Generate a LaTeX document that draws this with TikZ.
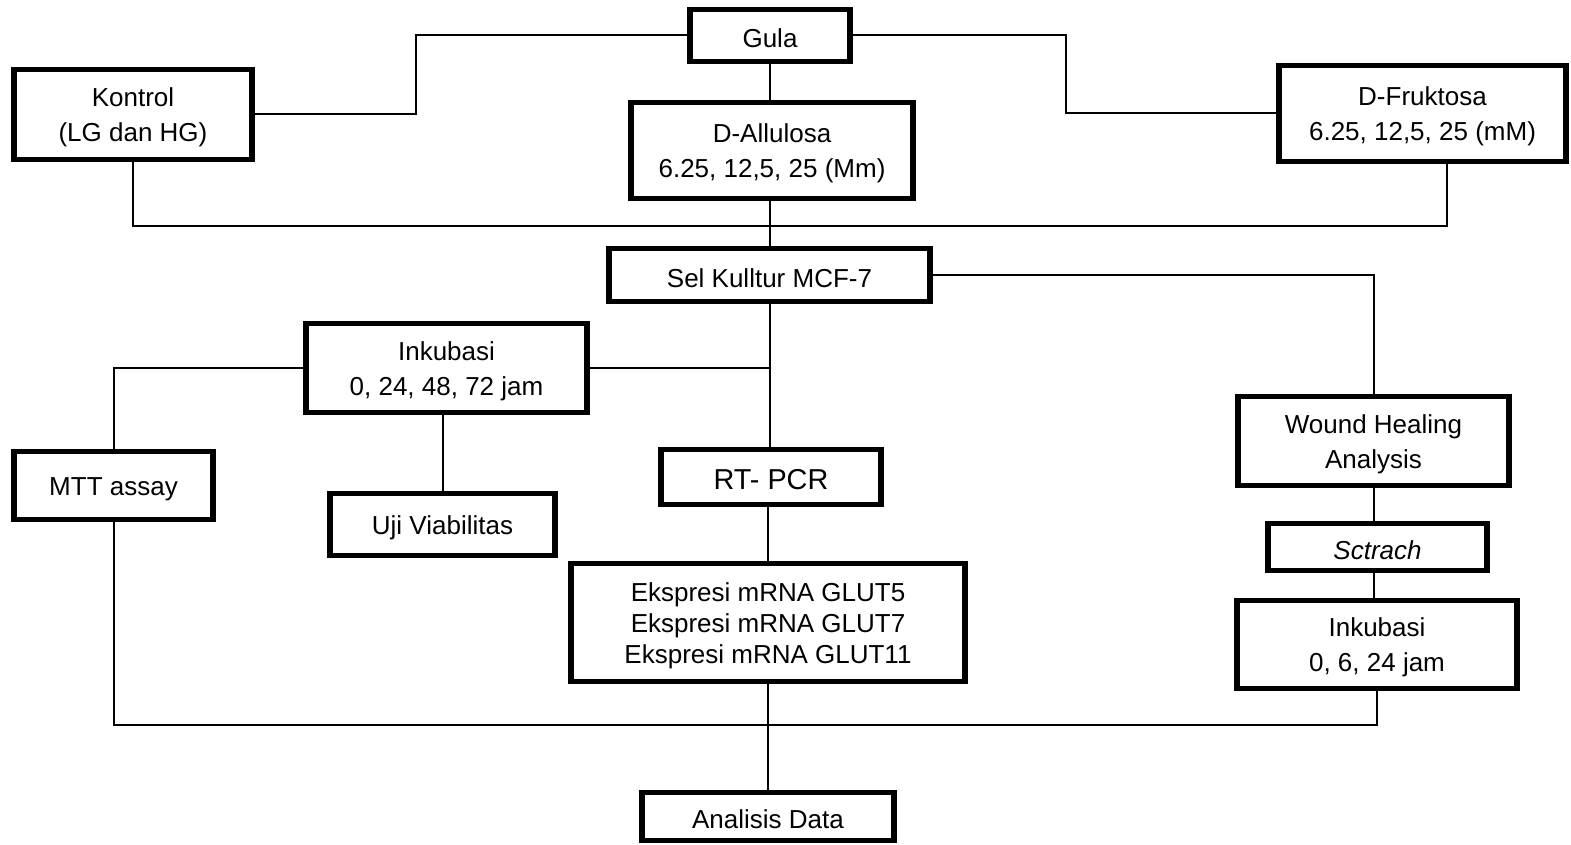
\documentclass[tikz,border=0pt]{standalone}
\usepackage{fontspec}
\setmainfont{Liberation Sans}
\usetikzlibrary{calc}
\newcommand{\mystrut}{\rule{0pt}{12.3pt}}
\begin{document}
\begin{tikzpicture}[x=0.5pt,y=-0.5pt,
  box/.style={draw,rectangle,line width=2.6pt,fill=white,inner sep=0pt,align=center,
    font=\fontsize{13}{17.5}\selectfont},
  conn/.style={line width=1pt}]
\useasboundingbox (0,0) rectangle (1571,845);
% nodes
\node[box,minimum width=80pt,minimum height=26.25pt] (gula) at (770,35.5) {\mystrut Gula};
\node[box,minimum width=119pt,minimum height=45.25pt] (kontrol) at (133,114.5) {\mystrut Kontrol\\(LG dan HG)};
\node[box,minimum width=141pt,minimum height=48.25pt] (allu) at (772,150.5) {\mystrut D-Allulosa\\6.25, 12,5, 25 (Mm)};
\node[box,minimum width=143.5pt,minimum height=48.25pt] (fruk) at (1422.5,113.5) {\mystrut D-Fruktosa\\6.25, 12,5, 25 (mM)};
\node[box,minimum width=160.5pt,minimum height=26.75pt] (sel) at (769.5,275) {\mystrut Sel Kulltur MCF-7};
\node[box,minimum width=140.5pt,minimum height=44.75pt] (inkl) at (446.5,368) {\mystrut Inkubasi\\0, 24, 48, 72 jam};
\node[box,minimum width=99.5pt,minimum height=34.25pt] (mtt) at (113.5,485.5) {\mystrut MTT assay};
\node[box,minimum width=112.5pt,minimum height=31.25pt] (uji) at (442.5,524.5) {\mystrut Uji Viabilitas};
\node[box,minimum width=110pt,minimum height=27.75pt,font=\fontsize{14.4}{17}\selectfont] (rt) at (771,477) {\mystrut RT- PCR};
\node[box,minimum width=197pt,minimum height=59.25pt,font=\fontsize{13}{15.5}\selectfont] (eks) at (768,622.5) {\mystrut Ekspresi mRNA GLUT5\\Ekspresi mRNA GLUT7\\Ekspresi mRNA GLUT11};
\node[box,minimum width=126pt,minimum height=24.25pt] (anal) at (768,816.5) {\mystrut Analisis Data};
\node[box,minimum width=135.5pt,minimum height=44.75pt] (wound) at (1373.5,441) {\mystrut Wound Healing\\Analysis};
\node[box,minimum width=109.5pt,minimum height=23.75pt] (scr) at (1377.5,547) {\mystrut\itshape Sctrach};
\node[box,minimum width=140pt,minimum height=44.25pt] (inkr) at (1377,644.5) {\mystrut Inkubasi\\0, 6, 24 jam};
% helper coordinates
\coordinate (j1) at (416,0);
\coordinate (j2) at (1066,0);
\coordinate (j3) at (0,226);
\coordinate (j5) at (0,725);
\coordinate (fx) at ($(fruk.south)+(24.5,0)$);
% connectors
\draw[conn] (gula.west) -| (j1 |- kontrol.east) -- (kontrol.east);
\draw[conn] (gula.east) -| (j2 |- fruk.west) -- (fruk.west);
\draw[conn] (gula.south) -- (gula.south |- allu.north);
\draw[conn] (kontrol.south) |- (j3 -| fx) -- (fx);
\draw[conn] (sel.north |- allu.south) -- (sel.north);
\draw[conn] (sel.east) -| (wound.north);
\draw[conn] (sel.south) -- (sel.south |- rt.north);
\draw[conn] (inkl.east) -- (inkl.east -| sel.south);
\draw[conn] (inkl.west) -| (mtt.north);
\draw[conn] (uji.north |- inkl.south) -- (uji.north);
\draw[conn] (eks.north |- rt.south) -- (eks.north);
\draw[conn] (eks.south) -- (anal.north);
\draw[conn] (mtt.south) |- (j5 -| inkr.south) -- (inkr.south);
\draw[conn] (wound.south) -- (wound.south |- scr.north);
\draw[conn] (wound.south |- scr.south) -- (wound.south |- inkr.north);
\end{tikzpicture}
\end{document}
